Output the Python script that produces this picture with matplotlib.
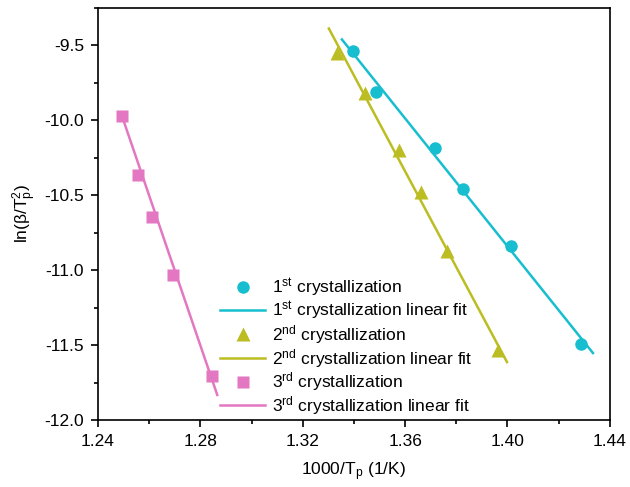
import matplotlib
matplotlib.use("Agg")
import matplotlib.pyplot as plt
from matplotlib.ticker import MultipleLocator

plt.rcParams["font.family"] = ["Liberation Sans", "DejaVu Sans"]
plt.rcParams["mathtext.default"] = "regular"

# 1st crystallization
x1 = [1.3396, 1.3486, 1.3716, 1.3826, 1.4013, 1.4287]
y1 = [-9.54, -9.813, -10.187, -10.46, -10.84, -11.493]
fit1_x = [1.3353, 1.4334]
fit1_y = [-9.46, -11.553]

# 2nd crystallization
x2 = [1.3334, 1.3443, 1.3576, 1.3662, 1.3763, 1.3963]
y2 = [-9.55, -9.82, -10.2, -10.48, -10.87, -11.53]
fit2_x = [1.3302, 1.3998]
fit2_y = [-9.387, -11.613]

# 3rd crystallization
x3 = [1.2494, 1.2556, 1.2611, 1.2693, 1.2845]
y3 = [-9.973, -10.367, -10.647, -11.033, -11.707]
fit3_x = [1.2494, 1.2866]
fit3_y = [-9.973, -11.833]

c1, c2, c3 = "#17becf", "#bcbd22", "#e377c2"

fig = plt.figure(figsize=(6.3, 4.87), dpi=100)
ax = fig.add_axes([0.1556, 0.1376, 0.8124, 0.846])

ax.plot(x1, y1, "o", color=c1, ms=9, mec="none", label="1$^{st}$ crystallization")
ax.plot(fit1_x, fit1_y, "-", color=c1, lw=1.8, label="1$^{st}$ crystallization linear fit")
ax.plot(x2, y2, "^", color=c2, ms=10, mec="none", label="2$^{nd}$ crystallization")
ax.plot(fit2_x, fit2_y, "-", color=c2, lw=1.8, label="2$^{nd}$ crystallization linear fit")
ax.plot(x3, y3, "s", color=c3, ms=8, mec="none", label="3$^{rd}$ crystallization")
ax.plot(fit3_x, fit3_y, "-", color=c3, lw=1.8, label="3$^{rd}$ crystallization linear fit")

ax.set_xlim(1.24, 1.44)
ax.set_ylim(-12.0, -9.25)
ax.xaxis.set_major_locator(MultipleLocator(0.04))
ax.xaxis.set_minor_locator(MultipleLocator(0.02))
ax.yaxis.set_major_locator(MultipleLocator(0.5))
ax.yaxis.set_minor_locator(MultipleLocator(0.25))
ax.xaxis.set_major_formatter(matplotlib.ticker.FormatStrFormatter("%.2f"))
ax.yaxis.set_major_formatter(matplotlib.ticker.FormatStrFormatter("%.1f"))
ax.tick_params(which="both", direction="out", top=False, right=False, labelsize=12.5, width=1.2)
ax.tick_params(which="major", length=5, pad=5)
ax.tick_params(which="minor", length=3)
for sp in ax.spines.values():
    sp.set_linewidth(1.2)

ax.set_xlabel("1000/T$_p$ (1/K)", fontsize=12.5, labelpad=8)
ax.set_ylabel("ln(β/T$_p^2$)", fontsize=12.5)

ax.legend(loc="lower left", bbox_to_anchor=(0.225, -0.01), frameon=False,
          fontsize=12.5, handlelength=2.6, handletextpad=0.4,
          labelspacing=0.05, borderaxespad=0.0)

fig.savefig("out.png", dpi=100)
